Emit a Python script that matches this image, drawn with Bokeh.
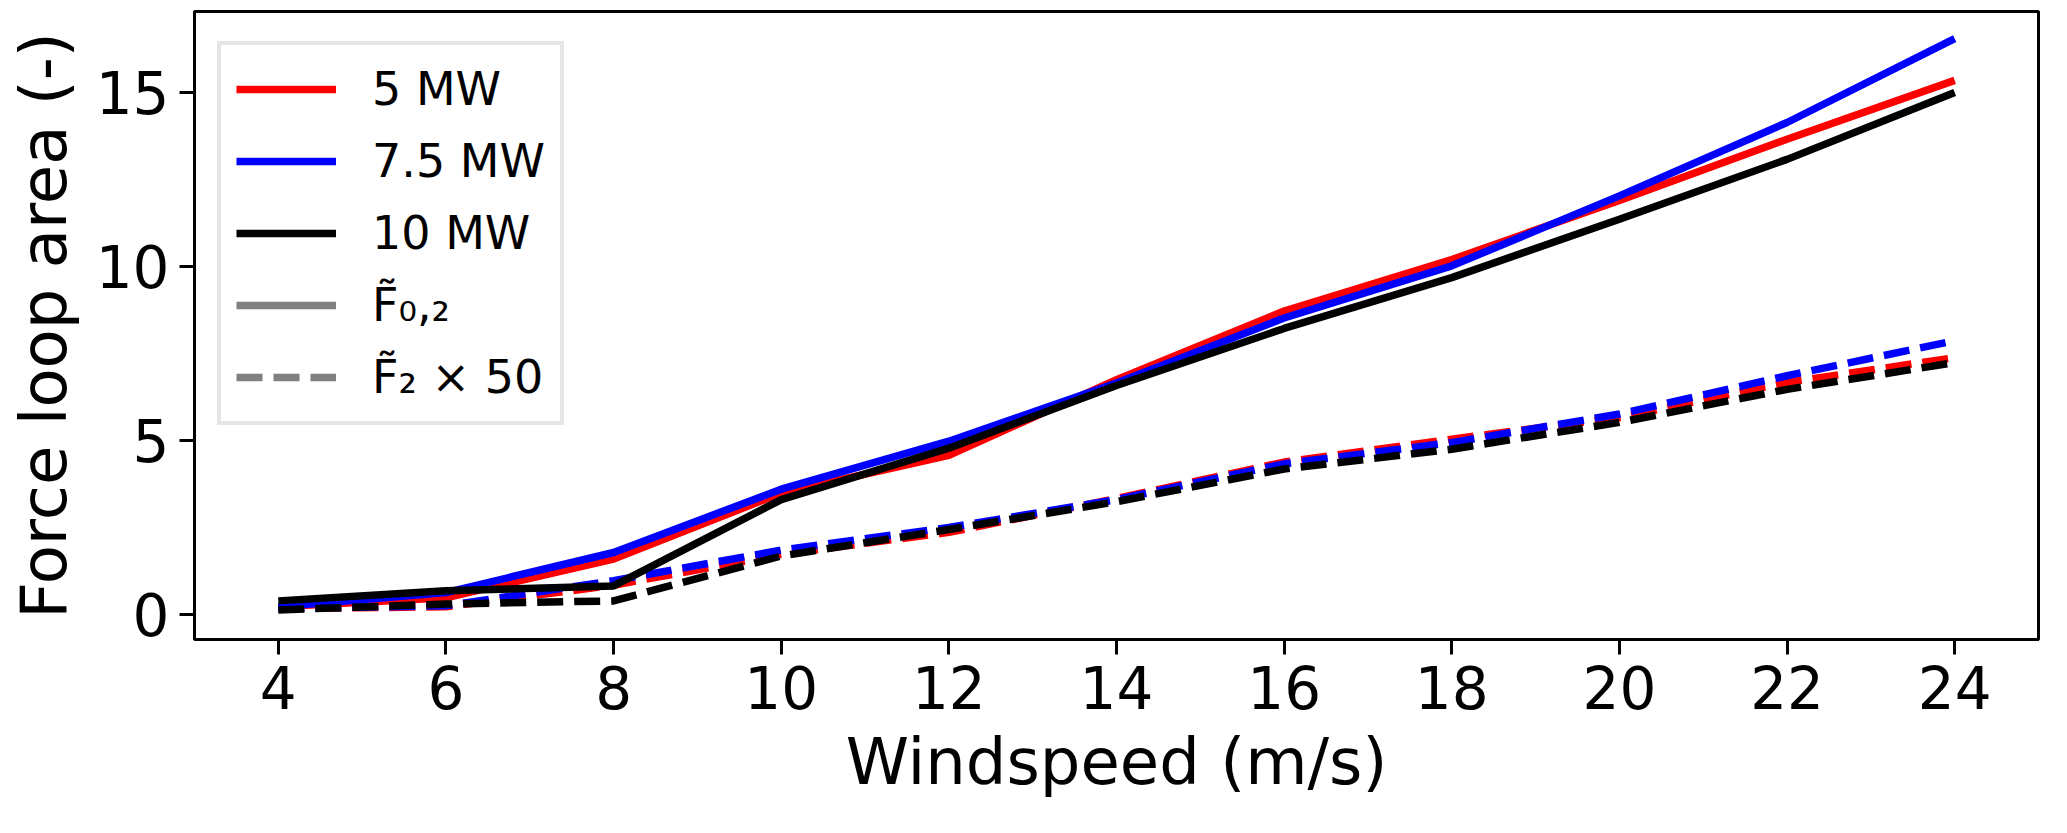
from bokeh.plotting import figure
from bokeh.models import ColumnDataSource, Legend, LegendItem, FixedTicker, Range1d
from bokeh.embed import file_html
from bokeh.resources import INLINE

# ---- data ----
windspeed = [4, 6, 8, 10, 12, 14, 16, 18, 20, 22, 24]

f02_5mw   = [0.22, 0.48, 1.59, 3.49, 4.57, 6.75, 8.72, 10.20, 11.90, 13.66, 15.35]
f02_75mw  = [0.22, 0.63, 1.78, 3.60, 4.98, 6.65, 8.52, 10.02, 12.03, 14.14, 16.55]
f02_10mw  = [0.39, 0.68, 0.82, 3.30, 4.78, 6.58, 8.22, 9.68, 11.36, 13.08, 15.00]

f2_5mw    = [0.17, 0.22, 0.84, 1.73, 2.36, 3.33, 4.38, 5.04, 5.66, 6.67, 7.38]
f2_75mw   = [0.17, 0.25, 0.97, 1.85, 2.50, 3.30, 4.33, 4.94, 5.76, 6.86, 7.87]
f2_10mw   = [0.13, 0.30, 0.39, 1.68, 2.44, 3.24, 4.18, 4.75, 5.52, 6.47, 7.24]

series_names = ["5 MW", "7.5 MW", "10 MW"]
series_colors = ["#ff0000", "#0000ff", "#000000"]
style_labels = ["F\u0303\u2080,\u2082", "F\u0303\u2082 \u00d7 50"]
x_ticks = [4, 6, 8, 10, 12, 14, 16, 18, 20, 22, 24]
y_ticks = [0, 5, 10, 15]

FONT = "DejaVu Sans"
LW = 7.5
DASH = "26 11"

p = figure(width=2051, height=817, output_backend="svg", toolbar_location=None,
           x_range=Range1d(3, 25), y_range=Range1d(-0.72, 17.33),
           min_border_left=194, min_border_right=13, min_border_top=11,
           min_border_bottom=178)

p.background_fill_color = "white"
p.border_fill_color = "white"
p.outline_line_color = "black"
p.outline_line_width = 3
p.xgrid.visible = False
p.ygrid.visible = False

solid = [f02_5mw, f02_75mw, f02_10mw]
dashed = [f2_5mw, f2_75mw, f2_10mw]
items = []
for name, col, ys, yd in zip(series_names, series_colors, solid, dashed):
    src = ColumnDataSource(dict(x=windspeed, y=ys))
    r = p.line("x", "y", source=src, line_color=col, line_width=LW)
    srcd = ColumnDataSource(dict(x=windspeed, y=yd))
    p.line("x", "y", source=srcd, line_color=col, line_width=LW, line_dash=DASH)
    items.append(LegendItem(label=name, renderers=[r]))

# legend-only grey entries (no visible data)
nan_src = ColumnDataSource(dict(x=[float("nan")], y=[float("nan")]))
g1 = p.line("x", "y", source=nan_src, line_color="#808080", line_width=LW)
g2 = p.line("x", "y", source=nan_src, line_color="#808080", line_width=LW, line_dash=DASH)
items.append(LegendItem(label=style_labels[0], renderers=[g1]))
items.append(LegendItem(label=style_labels[1], renderers=[g2]))

legend = Legend(items=items, location=(23, 214))
legend.label_text_font = FONT
legend.label_text_font_size = "46px"
legend.label_text_color = "black"
legend.label_height = 58
legend.glyph_height = 58
legend.glyph_width = 100
legend.spacing = 14
legend.padding = 15
legend.margin = 0
legend.label_standoff = 36
legend.border_line_color = "#cccccc"
legend.border_line_width = 4
legend.background_fill_alpha = 0.8
p.add_layout(legend, "center")

for ax in (p.xaxis[0], p.yaxis[0]):
    ax.axis_line_color = "black"
    ax.axis_line_width = 3
    ax.major_tick_line_width = 3
    ax.major_tick_out = 15
    ax.major_tick_in = 0
    ax.minor_tick_line_color = None
    ax.major_label_text_font = FONT
    ax.major_label_text_font_size = "58px"
    ax.major_label_text_color = "black"
    ax.axis_label_text_font = FONT
    ax.axis_label_text_font_size = "64px"
    ax.axis_label_text_font_style = "normal"
    ax.axis_label_text_color = "black"

p.xaxis.ticker = FixedTicker(ticks=x_ticks)
p.yaxis.ticker = FixedTicker(ticks=y_ticks)
p.xaxis.axis_label = "Windspeed (m/s)"
p.yaxis.axis_label = "Force loop area (-)"
p.xaxis.major_label_standoff = 11
p.yaxis.major_label_standoff = 10
p.xaxis.axis_label_standoff = 13
p.yaxis.axis_label_standoff = 12

open("out.html", "w").write(file_html(p, INLINE))
